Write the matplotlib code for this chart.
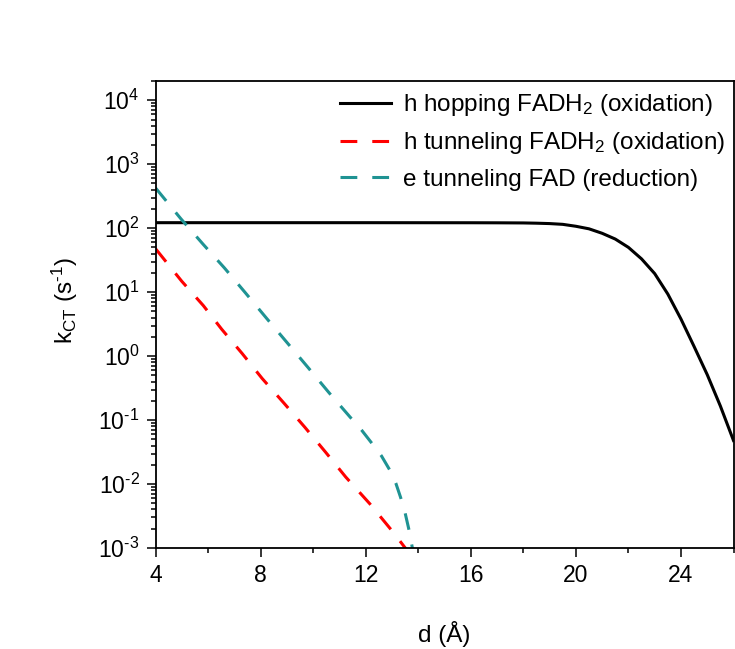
import matplotlib
matplotlib.use("Agg")
import matplotlib.pyplot as plt
from matplotlib.ticker import LogLocator, MultipleLocator, NullFormatter, FuncFormatter
import numpy as np

plt.rcParams['font.family'] = ['Liberation Sans', 'DejaVu Sans']
plt.rcParams['mathtext.fontset'] = 'custom'
plt.rcParams['mathtext.rm'] = 'Liberation Sans'
plt.rcParams['mathtext.it'] = 'Liberation Sans:italic'
plt.rcParams['mathtext.bf'] = 'Liberation Sans:bold'

# ---- data (distance in Å, log10 of rate) ----
hop_d = [4.0, 8.0, 12.0, 16.0, 17.0, 18.0, 18.5, 19.0, 19.5, 20.0, 20.5, 21.0, 21.5,
         22.0, 22.5, 23.0, 23.5, 24.0, 24.5, 25.0, 25.5, 26.0]
hop_log = [2.086, 2.086, 2.086, 2.085, 2.084, 2.082, 2.078, 2.072, 2.06, 2.03, 1.99,
           1.92, 1.83, 1.70, 1.52, 1.29, 0.97, 0.58, 0.15, -0.29, -0.78, -1.32]

htun_d = [4.0, 5.0, 5.82, 6.52, 7.30, 8.06, 8.90, 9.68, 10.47, 11.24, 12.16, 13.04, 13.6]
htun_log = [1.68, 1.17, 0.79, 0.42, 0.04, -0.35, -0.74, -1.11, -1.5, -1.89, -2.31, -2.75, -3.05]

etun_d = [4.0, 4.96, 5.81, 6.62, 7.40, 8.23, 9.01, 9.81, 10.6, 11.4, 11.85, 12.23, 12.6,
          12.93, 13.15, 13.33, 13.5, 13.65, 13.8]
etun_log = [2.63, 2.15, 1.75, 1.38, 1.0, 0.59, 0.21, -0.18, -0.57, -0.95, -1.16, -1.36,
            -1.56, -1.79, -1.99, -2.21, -2.45, -2.72, -3.05]

labels = ['h hopping FADH$_2$ (oxidation)',
          'h tunneling FADH$_2$ (oxidation)',
          'e tunneling FAD (reduction)']
colors = ['#000000', '#ff0000', '#1f9393']

fig = plt.figure(figsize=(7.35, 6.49), dpi=100)
ax = fig.add_axes([155.5/735, 1-548/649, (733.5-155.5)/735, (548-81)/649])

lw = 2.2
ax.plot(hop_d, 10**np.array(hop_log), color=colors[0], lw=lw, label=labels[0])
ax.plot(htun_d, 10**np.array(htun_log), color=colors[1], lw=lw,
        linestyle=(0, (5.5, 4.9)), label=labels[1])
ax.plot(etun_d, 10**np.array(etun_log), color=colors[2], lw=lw,
        linestyle=(0, (5.5, 4.9)), label=labels[2])

ax.set_yscale('log')
ax.set_xlim(4, 26)
ax.set_ylim(1e-3, 2e4)

def logfmt(v, pos):
    e = int(round(np.log10(v)))
    s = str(e).replace('-', '\u2010')
    return '10$^{\\mathregular{%s}}$' % s

ax.xaxis.set_major_locator(MultipleLocator(4))
ax.xaxis.set_minor_locator(MultipleLocator(2))
ax.yaxis.set_major_locator(LogLocator(base=10, numticks=100))
ax.yaxis.set_major_formatter(FuncFormatter(logfmt))
ax.yaxis.set_minor_locator(LogLocator(base=10, subs=np.arange(2, 10), numticks=100))
ax.yaxis.set_minor_formatter(NullFormatter())

ax.tick_params(which='both', direction='out', top=False, right=False,
               labelsize=16.5, width=1.1)
ax.tick_params(which='major', length=6.5, pad=5)
ax.tick_params(which='minor', length=3.5)
for s in ax.spines.values():
    s.set_linewidth(1.3)

ax.set_xlabel('d (Å)', fontsize=17.5)
ax.set_ylabel('k$_{\\mathregular{CT}}$ (s$^{\\mathregular{\u20101}}$)', fontsize=17.5)
ax.xaxis.set_label_coords(0.5, -0.157)
ax.yaxis.set_label_coords(-0.13, 0.53)

ax.legend(loc='upper left', bbox_to_anchor=(0.319, 0.976), frameon=False,
          fontsize=17.5, handlelength=2.1, handletextpad=0.5, labelspacing=0.5,
          borderpad=0, borderaxespad=0)

fig.savefig('out.png', dpi=100, facecolor='white')
